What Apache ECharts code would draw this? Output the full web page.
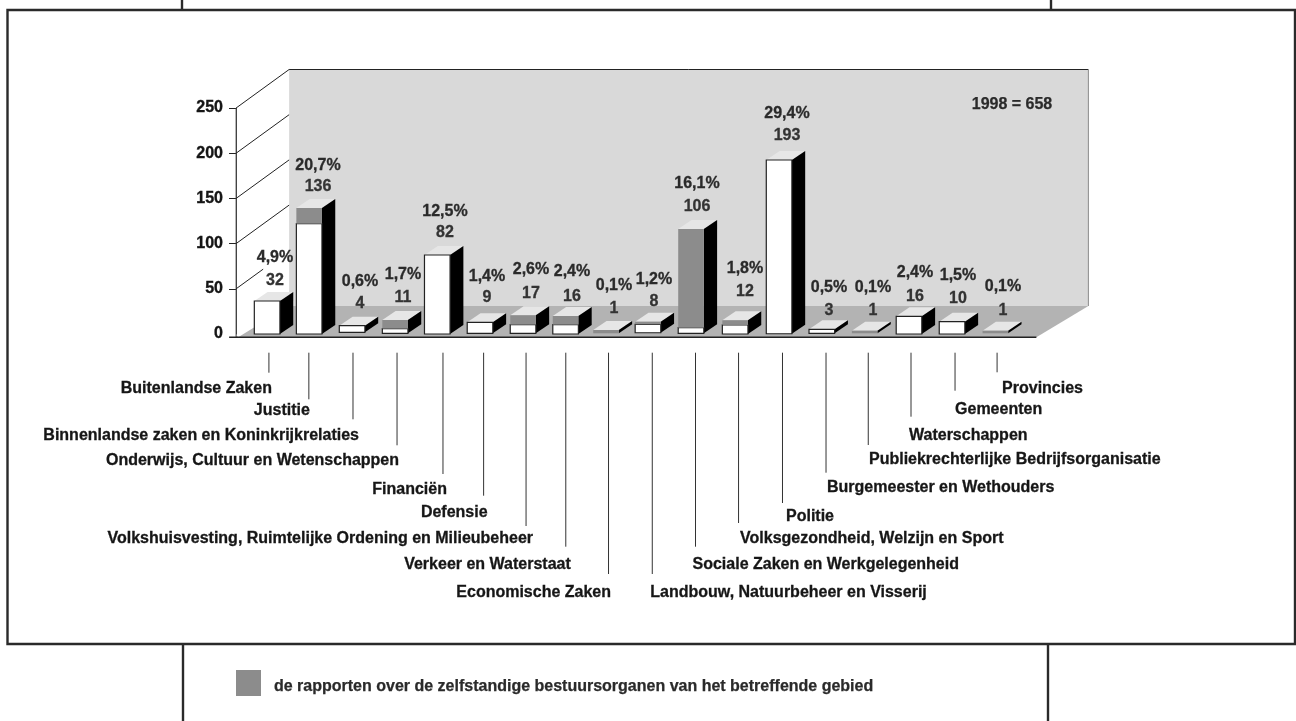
<!DOCTYPE html>
<html><head><meta charset="utf-8">
<style>html,body{margin:0;padding:0;background:#fff}#c{width:1296px;height:721px}</style>
<script src="https://cdn.jsdelivr.net/npm/echarts@6/dist/echarts.min.js"></script>
</head><body><div id="c"></div>
<script>
// ---- data ----
const categories = ["Buitenlandse Zaken","Justitie","Binnenlandse zaken en Koninkrijkrelaties","Onderwijs, Cultuur en Wetenschappen","Financiën","Defensie","Volkshuisvesting, Ruimtelijke Ordening en Milieubeheer","Verkeer en Waterstaat","Economische Zaken","Landbouw, Natuurbeheer en Visserij","Sociale Zaken en Werkgelegenheid","Volksgezondheid, Welzijn en Sport","Politie","Burgemeester en Wethouders","Publiekrechterlijke Bedrijfsorganisatie","Waterschappen","Gemeenten","Provincies"];
const countLabels = ["32","136","4","11","82","9","17","16","1","8","106","12","193","3","1","16","10","1"];
const shareLabels = ["4,9%","20,7%","0,6%","1,7%","12,5%","1,4%","2,6%","2,4%","0,1%","1,2%","16,1%","1,8%","29,4%","0,5%","0,1%","2,4%","1,5%","0,1%"];
// heights of the drawn bars as read against the value axis
const barTop   = [36.5,139.4,9.2,15.5,87.4,12.9,20.7,19.9,4.4,13.6,116.2,15.2,192.5,5.2,3.7,19.6,13.6,3.7];
const whiteTop = [36.5,122,9.2,5.9,87.4,12.9,10.3,10.3,0.8,10.7,7,10,192.5,5.2,0.8,19.6,13.6,0.8];
const barBase  = [0,0,1.9,0.8,0,0.8,0.8,0,0.8,1.4,0.8,0,0.3,0.8,0.8,0,0,0.8];
const yTicks = [0,50,100,150,200,250];
const totalNote = "1998 = 658";
const legendText = "de rapporten over de zelfstandige bestuursorganen van het betreffende gebied";

// ---- layout only (pixels) ----
const barNudge   = [0,-0.8,-0.7,-0.5,-1.2,-1.3,-1.1,-1.4,-3.8,-4.7,-4.5,-3.2,-2.1,-2.2,-2.2,-0.7,-0.5,0];
const leaderDx   = [1.8,-1.1,0.2,1.4,4.5,2.3,1.9,-1.2,-1.3,-0.4,0,0.2,1.3,2,1.4,1.3,2.5,1.7];
const leaderEnd  = [372.7,399.3,419.3,445.3,474,495.7,526,546.7,574,574,546.7,523,503,472.7,445,416.7,390.7,372.3];
const nameY      = [389,411,436,461,490,513,539,565,593,593,565,539,517,488,460,436,410,389];
const nameDx     = [3,1,6,2,4,4,7,5,2.5,-2,-3,1.5,3.5,1,0.7,-2,0,5];
const labelX     = [275,318,360,403,445,487,531,572,614,654,697,745,787,829,873,915,958,1003];
const countY     = [281,187,304,298,233,298,294,297,309,302,207,292,136,311,311,297,299,311];
const shareY     = [258,166,282,275,212,277,270,272,286,280,184,269,114,288,288,273,276,287];
const FONT = '"Liberation Sans", Arial, sans-serif';
const BW = 25.6, DX = 13.3, DY = 9;
const WALLX = 53, WALLY = 38.5;

function poly(points, fill, extra){
  return Object.assign({type:'polygon', shape:{points}, style:{fill}}, extra||{});
}
function seg(x1,y1,x2,y2,stroke,w){
  return {type:'line', shape:{x1,y1,x2,y2}, style:{stroke:stroke||'#222', lineWidth:w||1, fill:null}};
}

const option = {
  animation:false,
  backgroundColor:'#fff',
  grid:{left:245.7, width:771.1, top:108, height:226, containLabel:false},
  xAxis:{type:'category', data:categories, show:false},
  yAxis:{type:'value', min:0, max:250, interval:50, offset:9.7,
    axisLine:{show:true, lineStyle:{color:'#444', width:1}},
    axisTick:{show:true, length:7, lineStyle:{color:'#222', width:1}, customValues:yTicks.slice(1)},
    axisLabel:{margin:13, fontFamily:FONT, fontWeight:'bold', fontSize:16, color:'#151515',
      textBorderColor:'#151515', textBorderWidth:0.35},
    splitLine:{show:false}},
  legend:{left:236, top:670, padding:0, itemWidth:25, itemHeight:26, icon:'rect', selectedMode:false,
    data:[legendText],
    formatter:n=>'{t|'+n+'}',
    textStyle:{rich:{t:{fontFamily:FONT, fontWeight:'bold', fontSize:16, color:'#2a2a2a', padding:[8,0,0,8],
      textBorderColor:'#2a2a2a', textBorderWidth:0.25}}}},
  graphic:[
    {type:'rect', z:-10, shape:{x:7.5,y:10,width:1287.5,height:634}, style:{fill:'#fff',stroke:'#2a2a2a',lineWidth:2.4}},
    {type:'line', z:-10, shape:{x1:182,y1:0,x2:182,y2:10}, style:{stroke:'#2a2a2a',lineWidth:2.4}},
    {type:'line', z:-10, shape:{x1:1051,y1:0,x2:1051,y2:10}, style:{stroke:'#2a2a2a',lineWidth:2.4}},
    {type:'line', z:-10, shape:{x1:183,y1:644,x2:183,y2:721}, style:{stroke:'#2a2a2a',lineWidth:2.4}},
    {type:'line', z:-10, shape:{x1:1048,y1:644,x2:1048,y2:721}, style:{stroke:'#2a2a2a',lineWidth:2.4}},
    {type:'text', z:20, style:{x:1012,y:105,text:totalNote,align:'center',verticalAlign:'middle',
      font:'bold 16px '+FONT, fill:'#2a2a2a', stroke:'#2a2a2a', lineWidth:0.25}}
  ],
  series:[
    { // walls, floor, grid diagonals
      type:'custom', name:'achtergrond', coordinateSystem:'cartesian2d', z:1, silent:true,
      data:[[0,0]], encode:{x:0,y:1},
      renderItem(params, api){
        const fx0 = api.coord([0,0])[0]-31, fx1 = api.coord([17,0])[0]+41;
        const y250 = api.coord([0,250])[1];
        const fy = 337.3, by = 306;
        const ch = [];
        ch.push(poly([[fx0+WALLX,y250-WALLY],[fx1+52,y250-WALLY],[fx1+52,by],[fx0+WALLX,by]],'#d9d9d9'));
        ch.push(poly([[fx0+2,fy],[fx0+WALLX,by],[fx1+52,by],[fx1,fy]],'#b3b3b3'));
        ch.push(seg(fx0+WALLX,y250-WALLY,fx1+52,y250-WALLY,'#222',1));
        ch.push(seg(fx1+52,y250-WALLY,fx1+52,by,'#8a8a8a',1));
        ch.push(seg(fx0,y250,fx0,fy,'#444',1));
        ch.push(seg(fx0-7,fy,fx1,fy,'#222',1.4));
        ch.push(seg(fx0,fy,fx0+2,fy,'#222',1));
        yTicks.slice(1).forEach(v=>{
          const y = api.coord([0,v])[1];
          const f = v===50 ? 0.51 : 1;
          ch.push(seg(fx0,y,fx0+WALLX*f,y-WALLY*f,'#222',1));
        });
        return {type:'group', children:ch};
      }
    },
    { // bar body: white front, top and side
      type:'custom', name:'rapporten', coordinateSystem:'cartesian2d', z:3, silent:true,
      itemStyle:{color:'#fff'},
      data:barTop.map((v,i)=>[i,v]), encode:{x:0,y:1},
      renderItem(params, api){
        const i = api.value(0);
        const cx = api.coord([i,0])[0]+barNudge[i];
        const yt = api.coord([i,barTop[i]])[1];
        const yb = api.coord([i,barBase[i]])[1];
        const yw = api.coord([i,whiteTop[i]])[1];
        const l = cx-BW/2, r = cx+BW/2;
        const ch = [
          poly([[l,yt],[r,yt],[r+DX,yt-DY],[l+DX,yt-DY]],'#e6e6e6'),
          poly([[r,yt],[r+DX,yt-DY],[r+DX,yb-DY],[r,yb]],'#000')
        ];
        if (whiteTop[i] > barBase[i]) {
          ch.push({type:'rect', shape:{x:l,y:yw,width:BW,height:yb-yw},
            style:{fill:'#fff',stroke:'#222',lineWidth:1.2}});
        }
        return {type:'group', children:ch};
      }
    },
    { // grey share of each bar
      type:'custom', name:legendText, coordinateSystem:'cartesian2d', z:4, silent:true,
      itemStyle:{color:'#8c8c8c'},
      data:barTop.map((v,i)=>[i,v]), encode:{x:0,y:1},
      renderItem(params, api){
        const i = api.value(0);
        if (barTop[i] <= whiteTop[i]) return {type:'group', children:[]};
        const cx = api.coord([i,0])[0]+barNudge[i];
        const yt = api.coord([i,barTop[i]])[1];
        const yw = api.coord([i,Math.max(whiteTop[i],barBase[i])])[1];
        return {type:'rect', shape:{x:cx-BW/2,y:yt,width:BW,height:yw-yt}, style:{fill:'#8c8c8c'}};
      }
    },
    { // value labels, leader lines and category names
      type:'custom', name:'labels', coordinateSystem:'cartesian2d', z:6, silent:true,
      data:barTop.map((v,i)=>[i,v]), encode:{x:0,y:1},
      renderItem(params, api){
        const i = api.value(0);
        const cx = api.coord([i,0])[0];
        const lx = cx+leaderDx[i];
        const ch = [seg(lx,352.7,lx,leaderEnd[i],'#333',1)];
        const txt = (x,y,t,align,size,fill)=>({type:'text', style:{x,y,text:t,align,verticalAlign:'middle',
          font:'bold '+size+'px '+FONT, fill, stroke:fill, lineWidth:0.3}});
        ch.push(txt(labelX[i],shareY[i],shareLabels[i],'center',16,'#2a2a2a'));
        ch.push(txt(labelX[i],countY[i],countLabels[i],'center',16,'#333'));
        ch.push(txt(lx+nameDx[i],nameY[i],categories[i],i<9?'right':'left',16,'#161616'));
        return {type:'group', children:ch};
      }
    }
  ]
};
const chart = echarts.init(document.getElementById('c'), null, {renderer:'canvas', width:1296, height:721});
chart.setOption(option);
</script></body></html>
